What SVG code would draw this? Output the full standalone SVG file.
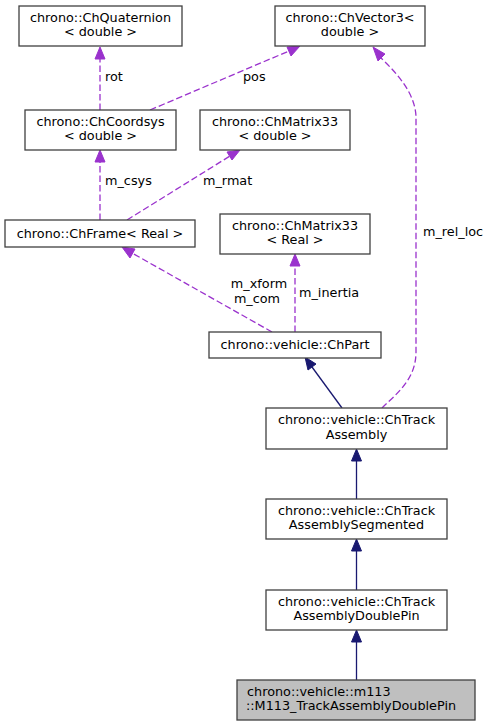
<svg xmlns="http://www.w3.org/2000/svg" width="491" height="727" viewBox="0 0 491 727">
<style>
text{font-family:"DejaVu Sans","Liberation Sans",sans-serif;font-size:12.8px;fill:#000}
.n rect{fill:#fff;stroke:#404040;stroke-width:1.3}
.c{text-anchor:middle}
.d{fill:none;stroke:#9a32cd;stroke-width:1.3;stroke-dasharray:6.5,3}
.da{fill:#9a32cd;stroke:#9a32cd}
.b{fill:none;stroke:#191970;stroke-width:1.3}
.ba{fill:#191970;stroke:#191970}
</style>
<rect width="491" height="727" fill="#fff"/>
<g id="connectors">
<path class="d" d="M100,110 L100,59"/><polygon class="da" points="100,47 105,59 95,59"/>
<text x="105" y="81">rot</text>
<path class="d" d="M150,110 L289,51"/><polygon class="da" points="300,46 291,56 287,47"/>
<text x="243" y="81">pos</text>
<path class="d" d="M382,408 C396,394 416,380 416,352 L416,118 C416,96 400,76 381,58"/><polygon class="da" points="373,47 385,54 378,61"/>
<text x="423" y="236">m_rel_loc</text>
<path class="d" d="M100,220 L100,162"/><polygon class="da" points="100,150 105,162 95,162"/>
<text x="105" y="185">m_csys</text>
<path class="d" d="M127,220 L230,156"/><polygon class="da" points="240,150 232,160 227,152"/>
<text x="203" y="185">m_rmat</text>
<path class="d" d="M272,332 L132,253"/><polygon class="da" points="122,247 135,249 130,258"/>
<text class="c" x="259" y="288">m_xform</text>
<text class="c" x="257" y="303">m_com</text>
<path class="d" d="M295,332 L295,266"/><polygon class="da" points="295,254 300,266 290,266"/>
<text x="299" y="297">m_inertia</text>
<path class="b" d="M342,408 L312,367"/><polygon class="ba" points="305,357 316,364 308,370"/>
<path class="b" d="M356.5,499 L356.5,461"/><polygon class="ba" points="356.5,449 361.5,461 351.5,461"/>
<path class="b" d="M356.5,590 L356.5,551"/><polygon class="ba" points="356.5,539 361.5,551 351.5,551"/>
<path class="b" d="M356.5,680 L356.5,642"/><polygon class="ba" points="356.5,630 361.5,642 351.5,642"/>
</g>
<g id="ChQuaternion" class="n"><rect x="19" y="6" width="163" height="40"/><text class="c" x="100.5" y="21.5">chrono::ChQuaternion</text><text class="c" x="100.5" y="36">&lt; double &gt;</text></g>
<g id="ChVector3" class="n"><rect x="275" y="6" width="150" height="40"/><text class="c" x="350" y="21.5">chrono::ChVector3&lt;</text><text class="c" x="350" y="36">double &gt;</text></g>
<g id="ChCoordsys" class="n"><rect x="25" y="110" width="151" height="40"/><text class="c" x="100.5" y="125.5">chrono::ChCoordsys</text><text class="c" x="100.5" y="140">&lt; double &gt;</text></g>
<g id="ChMatrix33double" class="n"><rect x="200" y="110" width="150" height="40"/><text class="c" x="275" y="125.5">chrono::ChMatrix33</text><text class="c" x="275" y="140">&lt; double &gt;</text></g>
<g id="ChFrame" class="n"><rect x="5" y="220" width="190" height="27"/><text class="c" x="100" y="237.5">chrono::ChFrame&lt; Real &gt;</text></g>
<g id="ChMatrix33Real" class="n"><rect x="220" y="214" width="150" height="40"/><text class="c" x="295" y="229.5">chrono::ChMatrix33</text><text class="c" x="295" y="244">&lt; Real &gt;</text></g>
<g id="ChPart" class="n"><rect x="209" y="332" width="172" height="26"/><text class="c" x="295" y="349">chrono::vehicle::ChPart</text></g>
<g id="ChTrackAssembly" class="n"><rect x="266" y="408" width="181" height="41"/><text class="c" x="356.5" y="424">chrono::vehicle::ChTrack</text><text class="c" x="356.5" y="438.5">Assembly</text></g>
<g id="ChTrackAssemblySegmented" class="n"><rect x="266" y="499" width="181" height="40"/><text class="c" x="356.5" y="514.5">chrono::vehicle::ChTrack</text><text class="c" x="356.5" y="529">AssemblySegmented</text></g>
<g id="ChTrackAssemblyDoublePin" class="n"><rect x="266" y="590" width="181" height="40"/><text class="c" x="356.5" y="605.5">chrono::vehicle::ChTrack</text><text class="c" x="356.5" y="620">AssemblyDoublePin</text></g>
<g id="M113_TrackAssemblyDoublePin" class="n"><rect x="237" y="680" width="238" height="40" style="fill:#bfbfbf"/><text x="247" y="695.5">chrono::vehicle::m113</text><text x="246" y="710">::M113_TrackAssemblyDoublePin</text></g>
</svg>
